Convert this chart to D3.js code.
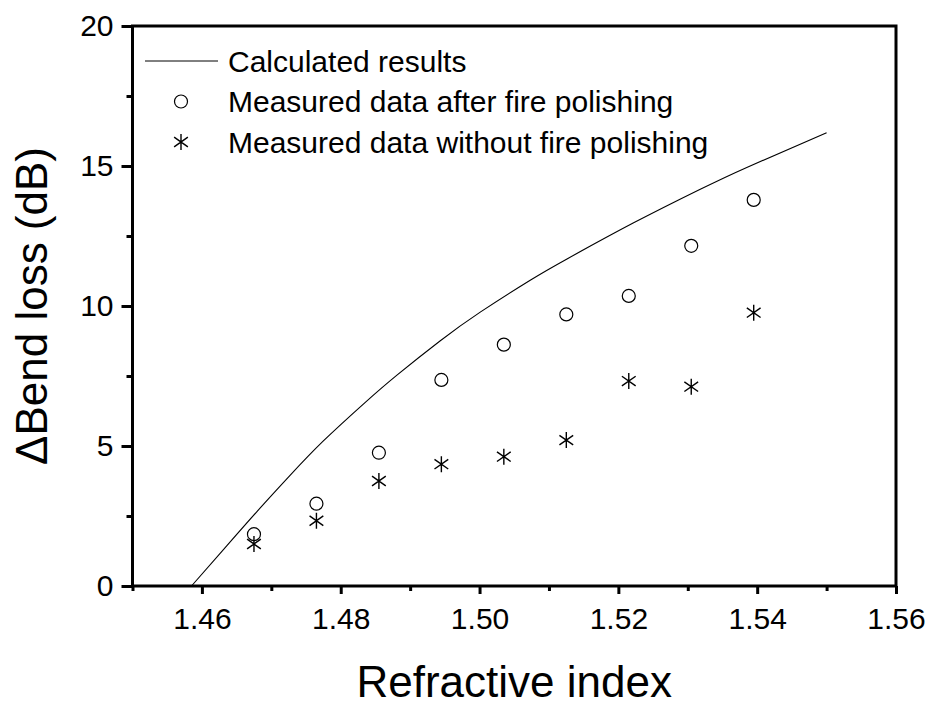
<!DOCTYPE html>
<html>
<head>
<meta charset="utf-8">
<script src="https://cdn.jsdelivr.net/npm/d3@7"></script>
<style>
  html, body { margin: 0; padding: 0; background: #fff; }
  svg { display: block; font-family: "Liberation Sans", Arial, sans-serif; }
</style>
</head>
<body>
<svg id="chart"></svg>
<script>
// measured points (refractive index of the samples)
const measuredX = [1.4675, 1.4765, 1.4855, 1.4945, 1.5035, 1.5125, 1.5215, 1.5305, 1.5395];
const afterPolish = [1.85, 2.94, 4.76, 7.36, 8.62, 9.70, 10.36, 12.15, 13.79];
const withoutPolish = [1.50, 2.33, 3.75, 4.35, 4.62, 5.21, 7.32, 7.12, 9.76];

// calculated curve
const curveX = [1.4585, 1.4631, 1.4679, 1.4727, 1.4775, 1.4835, 1.4881, 1.4943, 1.5001, 1.5073, 1.5126, 1.5222, 1.5318, 1.5385, 1.5500];
const curveY = [0, 1.30, 2.65, 3.95, 5.18, 6.55, 7.53, 8.75, 9.78, 10.92, 11.68, 12.97, 14.17, 14.95, 16.19];

const xMajor = [1.46, 1.48, 1.50, 1.52, 1.54, 1.56];
const xMinor = [1.45, 1.47, 1.49, 1.51, 1.53, 1.55];
const yMajor = [0, 5, 10, 15, 20];
const yMinor = [2.5, 7.5, 12.5, 17.5];

const legendLabels = ["Calculated results", "Measured data after fire polishing", "Measured data without fire polishing"];

const width = 934, height = 709;
const svg = d3.select("#chart").attr("width", width).attr("height", height);

svg.append("rect").attr("width", width).attr("height", height).attr("fill", "#fff");

const x = d3.scaleLinear().domain([1.45, 1.56]).range([132.5, 896]);
const y = d3.scaleLinear().domain([0, 20]).range([586, 26]);

// minor ticks
svg.append("g")
    .attr("transform", `translate(0,${y(0)})`)
    .call(d3.axisBottom(x).tickValues(xMinor).tickSize(5).tickFormat(""))
    .call(g => g.select(".domain").remove());

svg.append("g")
    .attr("transform", `translate(${x(1.45)},0)`)
    .call(d3.axisLeft(y).tickValues(yMinor).tickSize(6).tickFormat(""))
    .call(g => g.select(".domain").remove());

// major ticks + labels
svg.append("g")
    .attr("transform", `translate(0,${y(0)})`)
    .call(d3.axisBottom(x).tickValues(xMajor).tickSize(8).tickPadding(14).tickFormat(d3.format(".2f")))
    .call(g => g.select(".domain").remove());

svg.append("g")
    .attr("transform", `translate(${x(1.45)},0)`)
    .call(d3.axisLeft(y).tickValues(yMajor).tickSize(11).tickPadding(8).tickFormat(d3.format("d")))
    .call(g => g.select(".domain").remove());

svg.selectAll(".tick line").attr("stroke", "#000").attr("stroke-width", 3);
svg.selectAll(".tick text")
    .attr("fill", "#000")
    .style("font-size", "30px")
    .style("font-family", "'Liberation Sans', Arial, sans-serif");

// frame
svg.append("rect")
    .attr("x", x(1.45))
    .attr("y", y(20))
    .attr("width", x(1.56) - x(1.45))
    .attr("height", y(0) - y(20))
    .attr("fill", "none")
    .attr("stroke", "#000")
    .attr("stroke-width", 3);

// calculated curve
const line = d3.line()
    .x((d, i) => x(curveX[i]))
    .y(d => y(d))
    .curve(d3.curveNatural);

svg.append("path")
    .datum(curveY)
    .attr("d", line)
    .attr("fill", "none")
    .attr("stroke", "#000")
    .attr("stroke-width", 1.1);

// symbols
function star(g, r) {
    const a = 35 * Math.PI / 180;
    const dx = r * 1.05 * Math.cos(a), dy = r * 1.05 * Math.sin(a);
    g.append("path")
        .attr("d", `M0,${-r}V${r}M${-dx},${-dy}L${dx},${dy}M${-dx},${dy}L${dx},${-dy}`)
        .attr("stroke", "#000")
        .attr("stroke-width", 1.4)
        .attr("fill", "none");
}

svg.append("g").selectAll("circle")
    .data(afterPolish)
    .join("circle")
    .attr("cx", (d, i) => x(measuredX[i]))
    .attr("cy", d => y(d))
    .attr("r", 6.5)
    .attr("fill", "none")
    .attr("stroke", "#000")
    .attr("stroke-width", 1.2);

svg.append("g").selectAll("g")
    .data(withoutPolish)
    .join("g")
    .attr("transform", (d, i) => `translate(${x(measuredX[i])},${y(d)})`)
    .each(function() { star(d3.select(this), 8); });

// legend
const legend = svg.append("g").style("font-size", "30px");
const rowY = [61, 101.5, 142];

legend.append("line")
    .attr("x1", 145).attr("x2", 218)
    .attr("y1", rowY[0]).attr("y2", rowY[0])
    .attr("stroke", "#000").attr("stroke-width", 1);

legend.append("circle")
    .attr("cx", 181).attr("cy", rowY[1]).attr("r", 6.5)
    .attr("fill", "none").attr("stroke", "#000").attr("stroke-width", 1.2);

star(legend.append("g").attr("transform", `translate(181,${rowY[2]})`), 8);

legend.selectAll("text")
    .data(legendLabels)
    .join("text")
    .attr("x", 228)
    .attr("y", (d, i) => rowY[i] + 10.5)
    .attr("fill", "#000")
    .text(d => d);

// axis titles
svg.append("text")
    .attr("x", (x(1.45) + x(1.56)) / 2)
    .attr("y", 697)
    .attr("text-anchor", "middle")
    .style("font-size", "44px")
    .text("Refractive index");

svg.append("text")
    .attr("transform", `translate(47,${(y(0) + y(20)) / 2}) rotate(-90)`)
    .attr("text-anchor", "middle")
    .style("font-size", "44px")
    .text("ΔBend loss (dB)");
</script>
</body>
</html>
